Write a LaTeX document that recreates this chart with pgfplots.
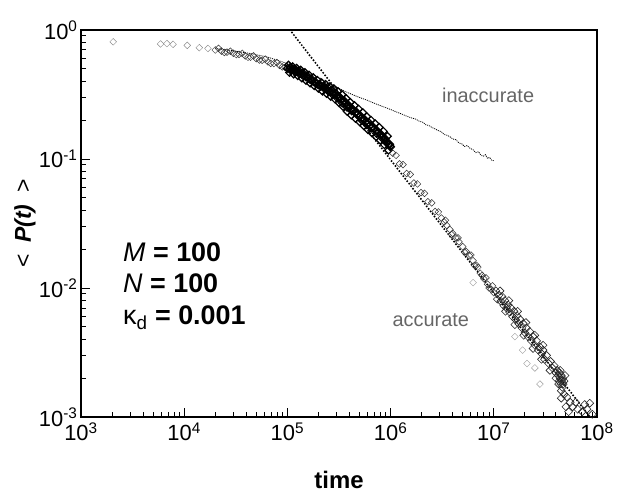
\documentclass[border=0pt]{standalone}
\usepackage{pgfplots}
\pgfplotsset{compat=1.18}
\usepackage{fontspec}
\setmainfont{Liberation Sans}

\begin{document}
\begin{tikzpicture}
\begin{axis}[name=ax,
  xmode=log, ymode=log,
  width=516bp, height=387bp, scale only axis,
  xmin=1e3, xmax=1e8, ymin=1e-3, ymax=1,
  axis line style={line width=1.6pt},
  tick align=inside, tick pos=left,
  major tick length=9bp, minor tick length=5bp,
  every tick/.style={black, line width=1pt},
  xtick={1e3,1e4,1e5,1e6,1e7,1e8},
  xticklabels={10\textsuperscript{3},10\textsuperscript{4},10\textsuperscript{5},10\textsuperscript{6},10\textsuperscript{7},10\textsuperscript{8}},
  minor xtick={2e3,3e3,4e3,5e3,6e3,7e3,8e3,9e3,2e4,3e4,4e4,5e4,6e4,7e4,8e4,9e4,2e5,3e5,4e5,5e5,6e5,7e5,8e5,9e5,2e6,3e6,4e6,5e6,6e6,7e6,8e6,9e6,2e7,3e7,4e7,5e7,6e7,7e7,8e7,9e7},
  ytick={1e-3,1e-2,1e-1,1},
  yticklabels={10\textsuperscript{-3},10\textsuperscript{-2},10\textsuperscript{-1},10\textsuperscript{0}},
  minor ytick={2e-3,3e-3,4e-3,5e-3,6e-3,7e-3,8e-3,9e-3,2e-2,3e-2,4e-2,5e-2,6e-2,7e-2,8e-2,9e-2,2e-1,3e-1,4e-1,5e-1,6e-1,7e-1,8e-1,9e-1},
  tick label style={font=\fontsize{22}{24}\selectfont},
  xticklabel style={yshift=-2bp},
  xlabel={\textbf{time}}, ylabel={<\enspace\textbf{\textit{P(t)}}\enspace>},
  every axis x label/.style={at={(axis description cs:0.5,0)}, anchor=base, yshift=-71bp, font=\fontsize{24}{26}\selectfont},
  every axis y label/.style={at={(axis description cs:-0.1085,0.5)}, rotate=90, anchor=center, font=\fontsize{23}{25}\selectfont},
  clip=true,
]
% power-law guide
\addplot[black, line width=2.2pt, line cap=round, dash pattern=on 0pt off 3.2pt] coordinates {(1.06e5,1) (8.55e7,1e-3) (1e8,8.5e-4)};

% accurate: early sparse points
\addplot[only marks, mark=square, mark size=2.4pt, mark options={rotate=45, black!45, line width=0.4pt}] coordinates {
(2.05e3,0.81) (5.9e3,0.78) (6.8e3,0.785) (7.8e3,0.775) (1.07e4,0.76) (1.4e4,0.73) (1.7e4,0.72)
};
% accurate: light band
\addplot[only marks, mark=square, mark size=2.4pt, mark options={rotate=45, black!80, line width=0.5pt}] coordinates {
(2.0e4,0.70) (2.15e4,0.72) (2.3e4,0.686) (2.45e4,0.67) (2.6e4,0.674) (2.8e4,0.685)
(3.0e4,0.66) (3.2e4,0.645) (3.4e4,0.647) (3.65e4,0.66) (3.9e4,0.63) (4.15e4,0.615)
(4.4e4,0.616) (4.7e4,0.63) (5.0e4,0.60) (5.35e4,0.585) (5.7e4,0.583) (6.1e4,0.595)
(6.5e4,0.566) (6.9e4,0.552) (7.4e4,0.549) (7.9e4,0.56) (8.4e4,0.532) (8.9e4,0.518) (9.5e4,0.513)
};
% accurate: dense band
\addplot[only marks, mark=square, mark size=2.7pt, mark options={rotate=45, black, line width=1.2pt}] coordinates {
(1.000e5,0.505) (1.047e5,0.498) (1.096e5,0.491) (1.148e5,0.484) (1.202e5,0.477)
(1.259e5,0.470) (1.318e5,0.461) (1.380e5,0.451) (1.445e5,0.442) (1.514e5,0.432)
(1.585e5,0.423) (1.660e5,0.413) (1.738e5,0.404) (1.820e5,0.394) (1.905e5,0.385)
(1.995e5,0.375) (2.089e5,0.368) (2.188e5,0.361) (2.291e5,0.354) (2.399e5,0.346)
(2.512e5,0.339) (2.630e5,0.332) (2.754e5,0.325) (2.884e5,0.317) (3.020e5,0.309)
(3.162e5,0.300) (3.311e5,0.290) (3.467e5,0.280) (3.631e5,0.270) (3.802e5,0.260)
(3.981e5,0.250) (4.169e5,0.243) (4.365e5,0.236) (4.571e5,0.229) (4.786e5,0.222)
(5.012e5,0.215) (5.248e5,0.208) (5.495e5,0.201) (5.754e5,0.194) (6.026e5,0.188)
(6.310e5,0.182) (6.607e5,0.177) (6.918e5,0.171) (7.244e5,0.166) (7.586e5,0.160)
(7.943e5,0.155) (8.318e5,0.149) (8.710e5,0.143) (9.120e5,0.136) (9.550e5,0.130) (1.000e6,0.124)
(1.023e5,0.535) (1.121e5,0.520) (1.230e5,0.506) (1.348e5,0.489) (1.478e5,0.469)
(1.621e5,0.448) (1.778e5,0.428) (1.949e5,0.408) (2.137e5,0.390) (2.344e5,0.379)
(2.570e5,0.363) (2.817e5,0.351) (3.089e5,0.334) (3.387e5,0.316) (3.714e5,0.294)
(4.073e5,0.275) (4.465e5,0.260) (4.896e5,0.244) (5.369e5,0.229) (5.886e5,0.213)
(6.455e5,0.200) (7.077e5,0.188) (7.760e5,0.176) (8.509e5,0.164) (9.330e5,0.150)
(1.047e5,0.468) (1.148e5,0.455) (1.259e5,0.442) (1.380e5,0.424) (1.514e5,0.406)
(1.660e5,0.388) (1.820e5,0.370) (1.995e5,0.353) (2.188e5,0.336) (2.399e5,0.322)
(2.630e5,0.305) (2.884e5,0.292) (3.162e5,0.273) (3.467e5,0.255) (3.802e5,0.234)
(4.169e5,0.219) (4.571e5,0.206) (5.012e5,0.194) (5.495e5,0.181) (6.026e5,0.169)
(6.607e5,0.159) (7.244e5,0.149) (7.943e5,0.140) (8.710e5,0.129) (9.550e5,0.117)
(2.45e5,0.360) (2.70e5,0.340) (2.95e5,0.322) (3.25e5,0.300) (3.55e5,0.283)
(3.90e5,0.262) (4.25e5,0.246) (4.65e5,0.232) (5.10e5,0.217) (5.60e5,0.203)
(6.15e5,0.192) (6.75e5,0.178) (7.40e5,0.166) (8.10e5,0.155) (8.90e5,0.143) (9.80e5,0.130)
(1.07e5,0.515) (1.17e5,0.500) (1.28e5,0.485) (1.41e5,0.463) (1.55e5,0.441)
(1.70e5,0.420) (1.86e5,0.398) (2.04e5,0.380) (2.24e5,0.367) (2.46e5,0.338)
(2.74e5,0.316) (3.05e5,0.296) (3.40e5,0.272) (3.78e5,0.252) (4.20e5,0.236)
(4.70e5,0.221) (5.25e5,0.200) (5.85e5,0.186) (6.50e5,0.173) (7.30e5,0.158)
(8.20e5,0.146) (9.20e5,0.133) (9.90e5,0.126)
};
% accurate: sparse stream after 1e6
\addplot[only marks, mark=square, mark size=2.4pt, mark options={rotate=45, black!80, line width=0.5pt}] coordinates {
(1.05e6,0.111) (1.13e6,0.1068) (1.22e6,0.0917) (1.32e6,0.0904) (1.43e6,0.0773) (1.55e6,0.0761)
(1.68e6,0.0651) (1.82e6,0.0641) (1.97e6,0.0549) (2.13e6,0.0542) (2.3e6,0.0466) (2.5e6,0.0457)
(2.7e6,0.0392) (2.9e6,0.0389)
(3.1e6,0.0349) (3.3e6,0.0325) (3.5e6,0.0306) (3.75e6,0.0284) (4.0e6,0.0265) (4.3e6,0.0245)
(4.6e6,0.0228) (5.0e6,0.0209) (5.4e6,0.0192) (5.8e6,0.0178) (6.3e6,0.0163) (6.8e6,0.0150)
(7.4e6,0.0130) (8.0e6,0.0118) (8.7e6,0.0107) (9.4e6,0.0098) (1.0e7,0.0092)
(3.4e6,0.0335) (3.9e6,0.0260) (4.5e6,0.0245) (5.2e6,0.0190) (6.0e6,0.0180) (6.5e6,0.0150)
(7.0e6,0.0145) (7.7e6,0.0125) (8.4e6,0.0120) (9.0e6,0.0100) (9.7e6,0.0104)
};
% accurate: dense cloud 1e7 - 1e8
\addplot[only marks, mark=square, mark size=2.8pt, mark options={rotate=45, black!85, line width=0.6pt}] coordinates {
(1.05e7,0.0095) (1.08e7,0.0082) (1.12e7,0.0088) (1.17e7,0.0079) (1.2e7,0.0086) (1.25e7,0.0073)
(1.28e7,0.0080) (1.33e7,0.0070) (1.38e7,0.0074) (1.42e7,0.0065) (1.47e7,0.0070) (1.52e7,0.0060)
(1.57e7,0.0066) (1.62e7,0.0057) (1.68e7,0.0061) (1.74e7,0.0053) (1.8e7,0.0057) (1.87e7,0.0049)
(1.93e7,0.0053) (2.0e7,0.0045) (2.07e7,0.0049) (2.15e7,0.0042) (2.23e7,0.0046) (2.3e7,0.0039)
(2.4e7,0.0042) (2.5e7,0.0036) (2.6e7,0.0039) (2.7e7,0.0033) (2.8e7,0.0035) (2.9e7,0.0031)
(3.0e7,0.0033) (3.1e7,0.0028) (3.25e7,0.0030) (3.4e7,0.0026) (3.55e7,0.0027) (3.7e7,0.0024)
(3.85e7,0.0025) (4.0e7,0.0022)
(1.15e7,0.0095) (1.4e7,0.0080) (1.7e7,0.0066) (2.05e7,0.0054) (2.5e7,0.0043) (3.0e7,0.0036)
(1.3e7,0.0066) (1.6e7,0.0052) (1.95e7,0.0043) (2.4e7,0.0034) (2.9e7,0.0028) (3.5e7,0.0023)
(4.1e7,0.0023) (4.2e7,0.0021) (4.3e7,0.0019) (4.35e7,0.0022) (4.4e7,0.0020) (4.45e7,0.0018)
(4.5e7,0.0021) (4.55e7,0.0019) (4.6e7,0.0017) (4.65e7,0.0020) (4.7e7,0.0018) (4.8e7,0.0019)
(4.4e7,0.0023) (4.5e7,0.0016) (4.25e7,0.0018) (4.0e7,0.0020) (4.9e7,0.0021)
(4.8e7,0.0015) (5.1e7,0.00143) (5.5e7,0.0013) (4.5e7,0.0014) (5.0e7,0.0012) (5.8e7,0.0012)
(6.5e7,0.00115) (7.2e7,0.0011) (8.0e7,0.00115) (8.5e7,0.00128) (9.0e7,0.00105) (7.6e7,0.00125)
(6.2e7,0.0013) (5.3e7,0.0011)
};
% accurate: faint scatter
\addplot[only marks, mark=square, mark size=2.4pt, mark options={rotate=45, black!40, line width=0.4pt}] coordinates {
(6.3e6,0.0110) (1.6e7,0.0042) (1.9e7,0.0033) (2.1e7,0.0026) (2.5e7,0.0024) (2.8e7,0.0018)
};
% inaccurate
\addplot[black, line width=0.8pt, dash pattern=on 1pt off 1pt] coordinates {
(2.0e4,0.72) (3.0e4,0.69) (4.5e4,0.655) (6.5e4,0.615) (9.0e4,0.565) (1.2e5,0.52)
(1.6e5,0.47) (2.0e5,0.43) (2.4e5,0.398) (3.0e5,0.36) (3.6e5,0.335) (4.3e5,0.315)
(5.0e5,0.30) (5.9e5,0.286) (7.0e5,0.27) (8.3e5,0.256) (1.0e6,0.242) (1.15e6,0.231)
(1.3e6,0.222) (1.45e6,0.214) (1.6e6,0.208) (1.75e6,0.204) (1.9e6,0.196) (2.05e6,0.193)
(2.2e6,0.184) (2.35e6,0.182) (2.5e6,0.176) (2.7e6,0.171) (2.9e6,0.166) (3.1e6,0.163)
(3.3e6,0.155) (3.5e6,0.153) (3.75e6,0.149) (4.0e6,0.143) (4.3e6,0.141) (4.6e6,0.133)
(4.9e6,0.131) (5.2e6,0.125) (5.5e6,0.127) (5.9e6,0.121) (6.3e6,0.118) (6.7e6,0.112)
(7.1e6,0.114) (7.5e6,0.107) (7.9e6,0.105) (8.3e6,0.108) (8.7e6,0.101) (9.1e6,0.103)
(9.5e6,0.098) (1.0e7,0.097)
};

\node[font=\fontsize{20}{22}\selectfont, text=black!60] at (rel axis cs:0.789,0.832) {inaccurate};
\node[font=\fontsize{20}{22}\selectfont, text=black!60] at (rel axis cs:0.678,0.251) {accurate};
\node[anchor=west, font=\fontsize{27}{29}\selectfont] at (rel axis cs:0.075,0.426) {\textit{M} \textbf{= 100}};
\node[anchor=west, font=\fontsize{27}{29}\selectfont] at (rel axis cs:0.075,0.346) {\textit{N} \textbf{= 100}};
\node[anchor=west, font=\fontsize{27}{29}\selectfont] at (rel axis cs:0.075,0.256) {κ\textsubscript{d} \textbf{= 0.001}};
\end{axis}
\pgfresetboundingbox
\path[use as bounding box] (ax.south west) ++(-81bp,-75bp) rectangle ([xshift=27bp,yshift=30bp]ax.north east);
\end{tikzpicture}
\end{document}
